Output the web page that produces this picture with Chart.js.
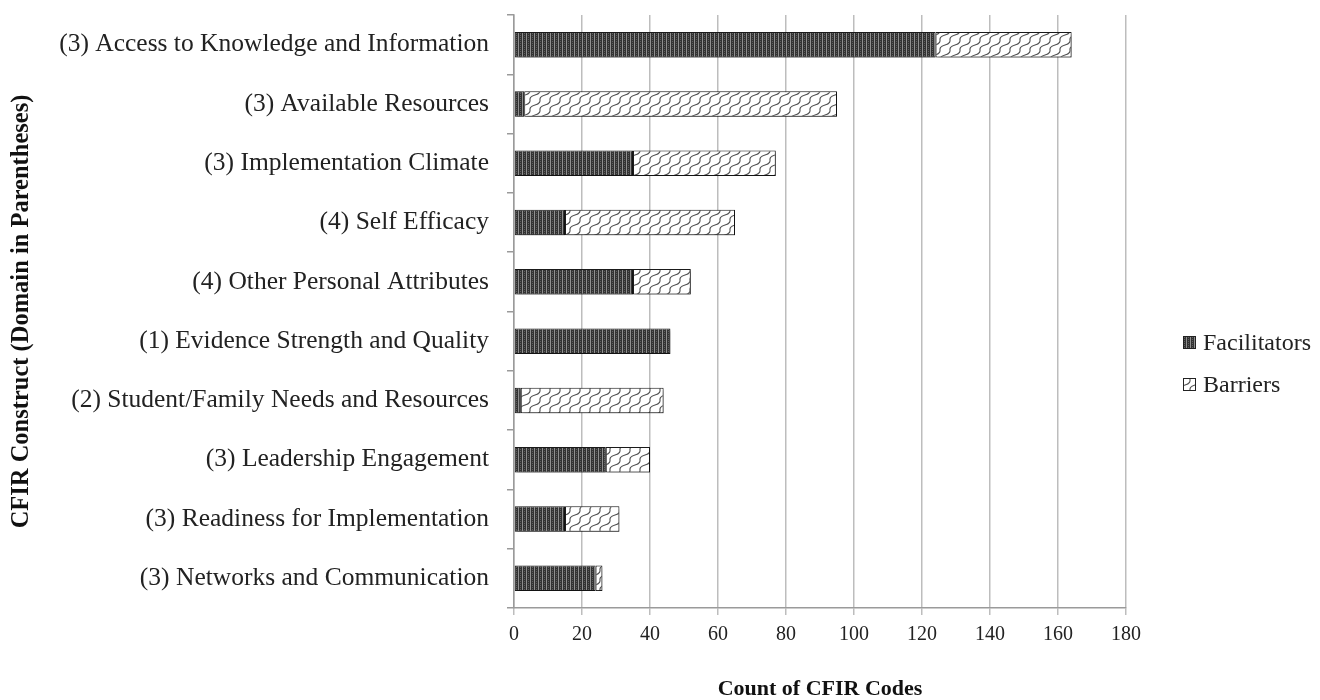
<!DOCTYPE html>
<html>
<head>
<meta charset="utf-8">
<script src="https://cdn.jsdelivr.net/npm/chart.js@4"></script>
<style>
  html, body { margin: 0; padding: 0; background: #fff; }
  #wrap { width: 1320px; height: 700px; }
</style>
</head>
<body>
<div id="wrap"><canvas id="chart" width="1320" height="700"></canvas></div>
<script>
const categories = [
    '(3) Access to Knowledge and Information',
    '(3) Available Resources',
    '(3) Implementation Climate',
    '(4) Self Efficacy',
    '(4) Other Personal Attributes',
    '(1) Evidence Strength and Quality',
    '(2) Student/Family Needs and Resources',
    '(3) Leadership Engagement',
    '(3) Readiness for Implementation',
    '(3) Networks and Communication'
];
const facilitators = [124, 3, 35, 15, 35, 46, 2, 27, 15, 24];
const barriers = [40, 92, 42, 50, 17, 0, 42, 13, 16, 2];
const seriesNames = ['Facilitators', 'Barriers'];

const SERIF = '"Liberation Serif", "Times New Roman", serif';

// dark fill with fine vertical stripes
function darkPattern(ctx) {
    const c = document.createElement('canvas');
    c.width = 4; c.height = 4;
    const g = c.getContext('2d');
    g.fillStyle = '#333333';
    g.fillRect(0, 0, 4, 4);
    g.fillStyle = '#909090';
    g.fillRect(2, 0, 1, 4);
    g.fillStyle = '#606060';
    g.fillRect(0, 1, 1, 1);
    g.fillRect(0, 3, 1, 1);
    return ctx.createPattern(c, 'repeat');
}

// white fill with diagonal woven waves
function wavePattern(ctx) {
    const s = 10;
    const c = document.createElement('canvas');
    c.width = s; c.height = s;
    const g = c.getContext('2d');
    g.fillStyle = '#ffffff';
    g.fillRect(0, 0, s, s);
    g.strokeStyle = '#505050';
    g.lineWidth = 1.1;
    for (const [dx, dy] of [[0, 0], [-s, 0], [s, 0], [0, -s], [0, s]]) {
        g.beginPath();
        g.moveTo(dx, s + dy);
        g.bezierCurveTo(dx - 1, 3 + dy, dx + s + 1, 7 + dy, dx + s, dy);
        g.stroke();
    }
    return ctx.createPattern(c, 'repeat');
}

const canvas = document.getElementById('chart');
const ctx = canvas.getContext('2d');
const fills = [darkPattern(ctx), wavePattern(ctx)];

const barShadow = {
    id: 'barShadow',
    beforeDatasetsDraw(chart) {
        const c = chart.ctx;
        c.save();
        c.shadowColor = 'rgba(0,0,0,0.35)';
        c.shadowBlur = 3;
        c.shadowOffsetX = 2;
        c.shadowOffsetY = 2;
    },
    afterDatasetsDraw(chart) {
        chart.ctx.restore();
    }
};

const sideLegend = {
    id: 'sideLegend',
    afterDraw(chart) {
        const c = chart.ctx;
        const x = chart.chartArea.right + 57;
        const top = 343;
        c.save();
        c.font = '24px ' + SERIF;
        c.textBaseline = 'middle';
        seriesNames.forEach((name, i) => {
            const y = top + i * 42;
            c.fillStyle = fills[i];
            c.fillRect(x, y - 7, 13, 13);
            c.strokeStyle = '#222';
            c.lineWidth = 1;
            c.strokeRect(x + 0.5, y - 6.5, 12, 12);
            c.fillStyle = '#222';
            c.fillText(name, x + 20, y + 1);
        });
        c.restore();
    }
};

new Chart(ctx, {
    type: 'bar',
    data: {
        labels: categories,
        datasets: [
            {
                label: seriesNames[0],
                data: facilitators,
                backgroundColor: fills[0],
                borderColor: '#1a1a1a',
                borderWidth: 1,
                borderSkipped: false
            },
            {
                label: seriesNames[1],
                data: barriers,
                backgroundColor: fills[1],
                borderColor: '#1a1a1a',
                borderWidth: 1,
                borderSkipped: false
            }
        ]
    },
    options: {
        indexAxis: 'y',
        responsive: false,
        animation: false,
        devicePixelRatio: 1,
        layout: { padding: { top: 15, right: 194, left: 0, bottom: 0 } },
        datasets: { bar: { categoryPercentage: 1, barPercentage: 0.43 } },
        plugins: {
            legend: { display: false },
            tooltip: { enabled: false }
        },
        scales: {
            x: {
                stacked: true,
                min: 0,
                max: 180,
                ticks: {
                    stepSize: 20,
                    color: '#222',
                    padding: 8,
                    font: { family: SERIF, size: 20 }
                },
                grid: { color: '#bdbdbd', lineWidth: 1.5, tickLength: 7 },
                border: { color: '#9a9a9a', width: 1.5 },
                title: {
                    display: true,
                    text: 'Count of CFIR Codes',
                    color: '#111',
                    font: { family: SERIF, size: 22, weight: 'bold', lineHeight: 1 },
                    padding: { top: 0, bottom: 0 }
                },
                afterFit(scale) { scale.height = 92; }
            },
            y: {
                stacked: true,
                ticks: {
                    color: '#222',
                    padding: 18,
                    font: { family: SERIF, size: 25.5 }
                },
                grid: {
                    offset: true,
                    drawOnChartArea: false,
                    tickLength: 7,
                    color: '#9a9a9a',
                    lineWidth: 1.5
                },
                border: { color: '#9a9a9a', width: 1.5 },
                title: {
                    display: true,
                    text: 'CFIR Construct (Domain in Parentheses)',
                    color: '#111',
                    font: { family: SERIF, size: 24.5, weight: 'bold', lineHeight: 1.2 },
                    padding: { top: 7, bottom: 0 }
                },
                afterFit(scale) {
                    scale.width = 514;
                    scale.paddingTop = 0;
                    scale.paddingBottom = 0;
                }
            }
        }
    },
    plugins: [barShadow, sideLegend]
});
</script>
</body>
</html>
